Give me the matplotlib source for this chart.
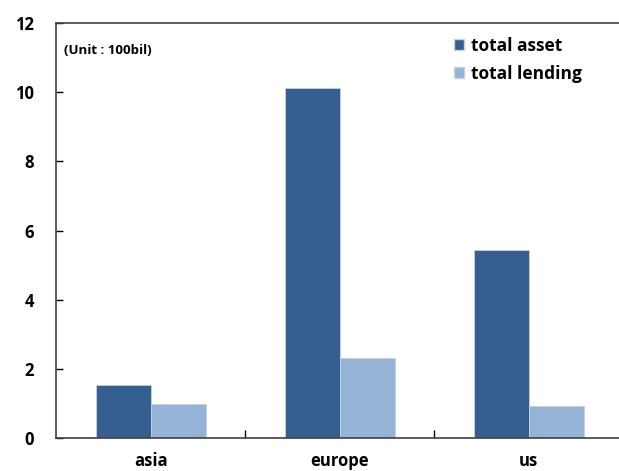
import numpy as np
import matplotlib.pyplot as plt
from matplotlib.patches import Patch

regions = ['asia', 'europe', 'us']
total_asset = [1.52, 10.13, 5.45]
total_lending = [0.97, 2.3, 0.93]

plt.rcParams['font.family'] = ['Open Sans', 'DejaVu Sans']

fig = plt.figure(figsize=(6.19, 4.71), dpi=100)
ax = fig.add_axes([0.091, 0.070, 0.916, 0.881])

x = np.arange(len(regions))
w = 0.29
ax.bar(x - w / 2, total_asset, w, color='#365f91', edgecolor='#c8d2de', linewidth=0.6)
ax.bar(x + w / 2, total_lending, w, color='#95b3d7', edgecolor='#c8d2de', linewidth=0.6)

ax.set_xlim(-0.5, 2.5)
ax.set_ylim(0, 12)
ax.set_yticks([0, 2, 4, 6, 8, 10, 12])
ax.set_yticklabels(['0', '2', '4', '6', '8', '10', '12'], fontsize=12, fontweight='bold')
ax.tick_params(axis='y', direction='in', length=5, width=1, pad=16)

# category labels without ticks, separator ticks between groups
ax.set_xticks(x)
ax.set_xticklabels(regions, fontsize=12, fontweight='bold')
ax.tick_params(axis='x', length=0, pad=10)
ax.set_xticks([0.5, 1.5], minor=True)
ax.tick_params(axis='x', which='minor', direction='in', length=6, width=1)

for s in ['left', 'bottom', 'top']:
    ax.spines[s].set_color('#404040')
    ax.spines[s].set_linewidth(1.2)
ax.spines['right'].set_visible(False)

ax.text(0.013, 0.935, '(Unit : 100bil)', transform=ax.transAxes, fontsize=9.5,
        fontweight='bold', va='center', ha='left')

handles = [Patch(facecolor='#365f91', edgecolor='#c8d2de', label='total asset'),
           Patch(facecolor='#95b3d7', edgecolor='#c8d2de', label='total lending')]
leg = ax.legend(handles=handles, loc='upper right', bbox_to_anchor=(0.955, 1.005), frameon=False,
                prop={'weight': 'bold', 'size': 12.5}, handlelength=0.6, handleheight=0.6,
                handletextpad=0.4, labelspacing=0.6)

fig.savefig('out.png', dpi=100)
